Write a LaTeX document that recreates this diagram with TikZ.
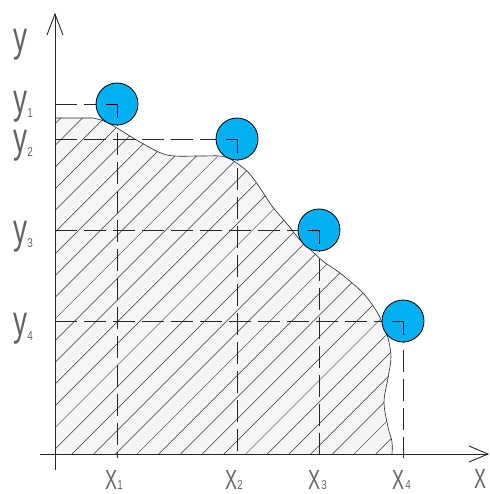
\documentclass[tikz,border=0pt]{standalone}
\usepackage{graphicx}
\usepackage{fontspec}
\setmainfont{Liberation Sans}
\definecolor{ballblue}{RGB}{0,176,240}
\definecolor{labelgray}{RGB}{100,100,100}
\tikzset{
  axisline/.style={line width=0.9pt, black!85},
  guide/.style={line width=0.8pt, black!85, dash pattern=on 22pt off 7pt},
  ball/.style={circle, draw=black, line width=0.8pt, fill=ballblue, minimum size=42pt, inner sep=0pt},
  corner/.style={line width=0.9pt, black},
  hatchline/.style={line width=0.5pt, black!80},
  boundary/.style={line width=0.6pt, black!85},
  lbl/.style={inner sep=0pt, anchor=center, text=labelgray},
}
\newcommand{\bigy}{\resizebox*{14pt}{31pt}{y}}
\newcommand{\bigX}{\resizebox*{12pt}{19pt}{X}}
\newcommand{\subd}[1]{\resizebox*{5.5pt}{9pt}{#1}}
\begin{document}
\begin{tikzpicture}[x=1pt,y=-1pt]
\useasboundingbox (0,0) rectangle (489,494);
% key coordinates (image pixel coordinates)
\coordinate (O) at (55,454);
\coordinate (B) at (55,458);
\coordinate (ytop) at (55,14);
\coordinate (ybot) at (55,470);
\coordinate (xl) at (40,454);
\coordinate (xtip) at (488,454);
\coordinate (ya) at (47,35);
\coordinate (yb) at (63,35);
\coordinate (xa) at (469,446);
\coordinate (xb) at (469,462);
\coordinate (p1) at (117,104);
\coordinate (p2) at (237,139);
\coordinate (p3) at (319,230);
\coordinate (p4) at (403,321);
% hatched region
\def\curvepts{(93,118) (104,121) (117,128) (140,142) (167,155) (200,156) (220,156) (232,160) (248,172) (260,188) (272,206) (288,225) (300,240) (313,252) (324,262) (340,273) (363,293) (377,312) (383,325) (388,338) (391,357) (388,378) (384,402) (388,427) (392,442) (392,454)}
\def\regionpath{(55,454) -- (55,118) -- plot[smooth, tension=0.55] coordinates {\curvepts} -- cycle}
\fill[black!4] \regionpath;
\begin{scope}
  \clip \regionpath;
  \foreach \k in {-17,...,15} {
    \draw[hatchline] ({72+21.7*\k},454) -- ++(345,-345);
  }
\end{scope}
\draw[boundary] (55,118) -- plot[smooth, tension=0.55] coordinates {\curvepts};
% axes
\draw[axisline] (ybot) -- (ytop);
\draw[axisline] (xl) -- (xtip);
\draw[axisline] (ya) -- (ytop) -- (yb);
\draw[axisline] (xa) -- (xtip) -- (xb);
% guide lines
\foreach \p in {p1,p2,p3,p4} {
  \draw[guide] (\p -| O) -- (\p);
  \draw[guide] (\p) -- (\p |- B);
}
% balls
\node[ball] (c1) at (p1) {};
\node[ball] (c2) at (p2) {};
\node[ball] (c3) at (p3) {};
\node[ball] (c4) at (p4) {};
\foreach \c in {c1,c2,c3,c4} {
  \draw[corner] (\c.center) ++(-11,0) -- (\c.center) -- ++(0,14);
}
% labels
\node[lbl] (ly) at (20,45) {\bigy};
\node[lbl] (ly1) at (20,107) {\bigy};
\node[lbl] (ly1s) at (30,113) {\subd{1}};
\node[lbl] (ly2) at (20,146) {\bigy};
\node[lbl] (ly2s) at (30,152) {\subd{2}};
\node[lbl] (ly3) at (20,237) {\bigy};
\node[lbl] (ly3s) at (30,243) {\subd{3}};
\node[lbl] (ly4) at (20,329) {\bigy};
\node[lbl] (ly4s) at (30,336) {\subd{4}};
\node[lbl] (lx1) at (111,480) {\bigX};
\node[lbl] (lx1s) at (120,485) {\subd{1}};
\node[lbl] (lx2) at (231,480) {\bigX};
\node[lbl] (lx2s) at (240,485) {\subd{2}};
\node[lbl] (lx3) at (314,480) {\bigX};
\node[lbl] (lx3s) at (324,485) {\subd{3}};
\node[lbl] (lx4) at (398,480) {\bigX};
\node[lbl] (lx4s) at (408,485) {\subd{4}};
\node[lbl] (lx) at (480,479) {\bigX};
\end{tikzpicture}
\end{document}
